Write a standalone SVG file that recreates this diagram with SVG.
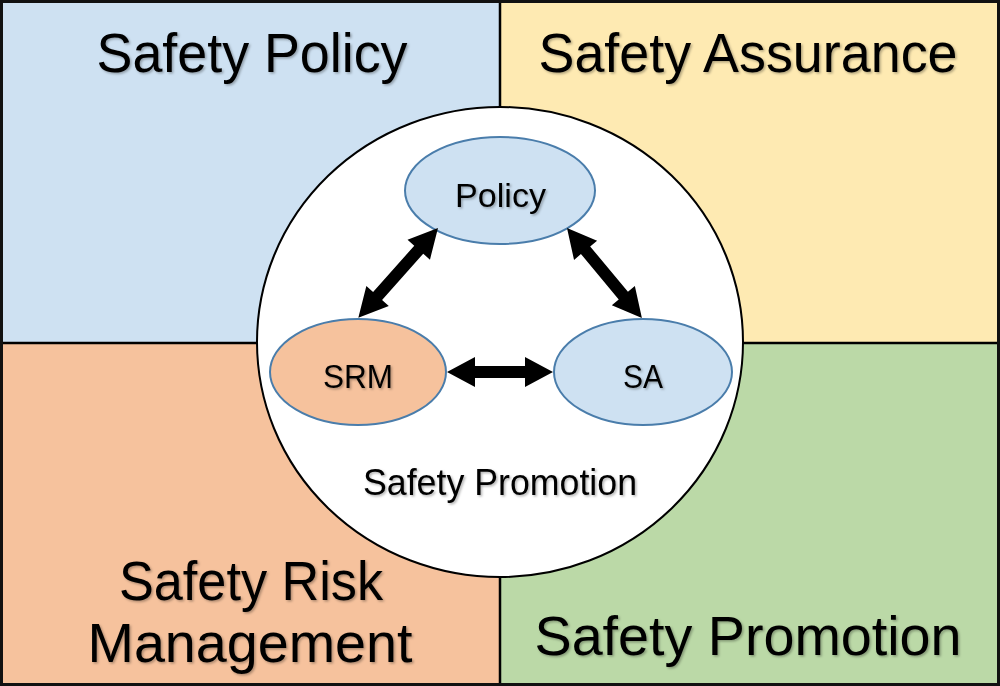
<svg xmlns="http://www.w3.org/2000/svg" width="1000" height="686" viewBox="0 0 1000 686">
  <defs>
    <filter id="sh" x="-10%" y="-20%" width="130%" height="150%">
      <feDropShadow dx="1.5" dy="1.5" stdDeviation="1" flood-color="#000" flood-opacity="0.3"/>
    </filter>
    <style>
      .big { font-family: "Liberation Sans", Arial, sans-serif; font-size: 56px; fill: #000; text-anchor: middle; }
      .small { font-family: "Liberation Sans", Arial, sans-serif; font-size: 34px; fill: #000; text-anchor: middle; }
      .node { stroke: #4a7dab; stroke-width: 2; }
      .arrow { fill: #000; }
      .div { stroke: #000; stroke-width: 2.5; }
    </style>
  </defs>

  <g id="quad-policy">
    <rect x="0" y="0" width="500" height="343" fill="#cee1f2"/>
    <text class="big" x="252" y="72" textLength="311" lengthAdjust="spacingAndGlyphs" filter="url(#sh)">Safety Policy</text>
  </g>
  <g id="quad-assurance">
    <rect x="500" y="0" width="500" height="343" fill="#feeab2"/>
    <text class="big" x="748" y="72" textLength="419" lengthAdjust="spacingAndGlyphs" filter="url(#sh)">Safety Assurance</text>
  </g>
  <g id="quad-srm">
    <rect x="0" y="343" width="500" height="343" fill="#f6c29d"/>
    <text class="big" x="251" y="600" textLength="264" lengthAdjust="spacingAndGlyphs" filter="url(#sh)">Safety Risk</text>
    <text class="big" x="250" y="662" textLength="325" lengthAdjust="spacingAndGlyphs" filter="url(#sh)">Management</text>
  </g>
  <g id="quad-promotion">
    <rect x="500" y="343" width="500" height="343" fill="#bbd9a7"/>
    <text class="big" x="748" y="655" textLength="427" lengthAdjust="spacingAndGlyphs" filter="url(#sh)">Safety Promotion</text>
  </g>

  <g id="frame">
    <line class="div" x1="500" y1="0" x2="500" y2="686"/>
    <line class="div" x1="0" y1="343" x2="1000" y2="343"/>
    <rect x="1.5" y="1.5" width="997" height="683" fill="none" stroke="#111" stroke-width="3"/>
  </g>

  <g id="circle">
    <ellipse cx="500" cy="342" rx="243" ry="235" fill="#fff" stroke="#000" stroke-width="2"/>
    <text class="small" x="500" y="495" style="font-size:36px" textLength="274" lengthAdjust="spacingAndGlyphs" filter="url(#sh)">Safety Promotion</text>
  </g>

  <g id="node-policy">
    <ellipse class="node" cx="500" cy="190.5" rx="95" ry="53.5" fill="#cee1f2"/>
    <text class="small" x="500.5" y="207" textLength="91" lengthAdjust="spacingAndGlyphs" filter="url(#sh)">Policy</text>
  </g>
  <g id="node-srm">
    <ellipse class="node" cx="358" cy="372" rx="88" ry="53" fill="#f6c29d"/>
    <text class="small" x="358" y="388" textLength="70" lengthAdjust="spacingAndGlyphs" filter="url(#sh)">SRM</text>
  </g>
  <g id="node-sa">
    <ellipse class="node" cx="643" cy="372" rx="89" ry="53" fill="#cee1f2"/>
    <text class="small" x="643" y="388" textLength="40" lengthAdjust="spacingAndGlyphs" filter="url(#sh)">SA</text>
  </g>

  <g id="connectors">
    <path class="arrow" transform="translate(438,228) rotate(131.6)" d="M0,0 L29,-15 L29,-6 L91,-6 L91,-15 L120,0 L91,15 L91,6 L29,6 L29,15 Z"/>
    <path class="arrow" transform="translate(567,228) rotate(50.2)" d="M0,0 L29,-15 L29,-6 L88,-6 L88,-15 L117,0 L88,15 L88,6 L29,6 L29,15 Z"/>
    <path class="arrow" transform="translate(447,372)" d="M0,0 L28,-15 L28,-6 L78,-6 L78,-15 L106,0 L78,15 L78,6 L28,6 L28,15 Z"/>
  </g>
</svg>
